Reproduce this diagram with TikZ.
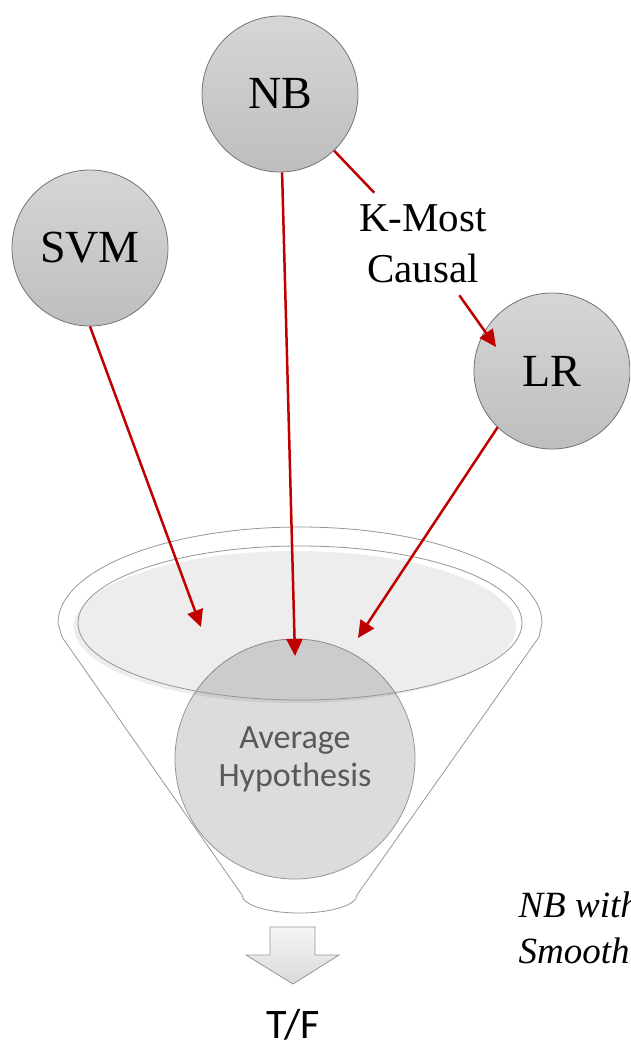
\documentclass[tikz,border=0pt]{standalone}
\usepackage{fontspec}
\setmainfont{Liberation Serif}
\newfontfamily\calibri{Carlito}
\usetikzlibrary{arrows.meta}
\definecolor{darkred}{RGB}{192,0,0}
\definecolor{ballTop}{RGB}{214,214,214}
\definecolor{ballBot}{RGB}{190,190,190}
\definecolor{ballEdge}{RGB}{115,115,115}
\definecolor{rim}{RGB}{150,150,150}
\definecolor{avgFill}{RGB}{220,220,220}
\definecolor{avgText}{RGB}{89,89,89}
\definecolor{padTop}{RGB}{245,245,245}
\definecolor{padBot}{RGB}{218,218,218}
\tikzset{
  ball/.style={circle, draw=ballEdge, line width=0.8pt, top color=ballTop,
    bottom color=ballBot, minimum size=156pt, inner sep=0pt,
    font=\fontsize{46}{50}\selectfont},
  conn/.style={draw=darkred, line width=2.5pt, -{Triangle[length=17pt,width=16pt]}},
  plain/.style={draw=darkred, line width=2.5pt},
}
\begin{document}
\begin{tikzpicture}[x=1pt,y=-1pt]
  \clip (0,0) rectangle (630,1045);
  % funnel
  \draw[rim, line width=0.8pt, fill=white]
    (62,637) -- (58,623) arc[start angle=180, end angle=360, x radius=242, y radius=96]
    -- (539,637) -- (357,895)
    arc[start angle=0, end angle=180, x radius=57.5, y radius=18] -- cycle;
  \node[circle, draw=rim, line width=0.8pt, fill=avgFill, minimum size=240pt,
    inner sep=0pt, text=avgText, align=center,
    font=\calibri\fontsize{34}{38}\selectfont] (avg) at (295,759) {Average\\Hypothesis};
  \fill[black, opacity=0.07] (295,627) ellipse[x radius=221, y radius=76];
  \draw[rim, line width=0.8pt] (300,623) ellipse[x radius=222, y radius=77];
  % output arrow
  \draw[rim, line width=0.8pt, top color=padTop, bottom color=padBot]
    (270,927) -- (315,927) -- (315,955) -- (339,955) -- (293,984)
    -- (246,955) -- (270,955) -- cycle;
  \draw
    (280,94) node[ball] (nb) {NB}
    (90,248) node[ball] (svm) {SVM}
    (552,371) node[ball] (lr) {LR}
    (423,244) node[align=center, inner sep=12pt,
      font=\fontsize{41}{51}\selectfont] (kmc) {K-Most\\Causal}
    (293,1025) node[font=\calibri\fontsize{42}{46}\selectfont] (tf) {T/F}
    (515,917) node[anchor=base west, font=\itshape\fontsize{37}{40}\selectfont] (nbw) {NB with}
    (515,963) node[anchor=base west, font=\itshape\fontsize{37}{40}\selectfont] (smo) {Smooth};
  \coordinate (tipnb) at (295,656);
  \coordinate (tipsvm) at (201,627);
  \coordinate (tiplr) at (358,638);
  \coordinate (tipk) at (496,347);
  \begin{scope}
    \draw[plain] (nb) to (kmc);
    \draw[conn] (kmc) to (tipk);
    \draw[conn] (nb) to (tipnb);
    \draw[conn] (svm.south) to (tipsvm);
    \draw[conn] (lr.226) to (tiplr);
  \end{scope}
\end{tikzpicture}
\end{document}
